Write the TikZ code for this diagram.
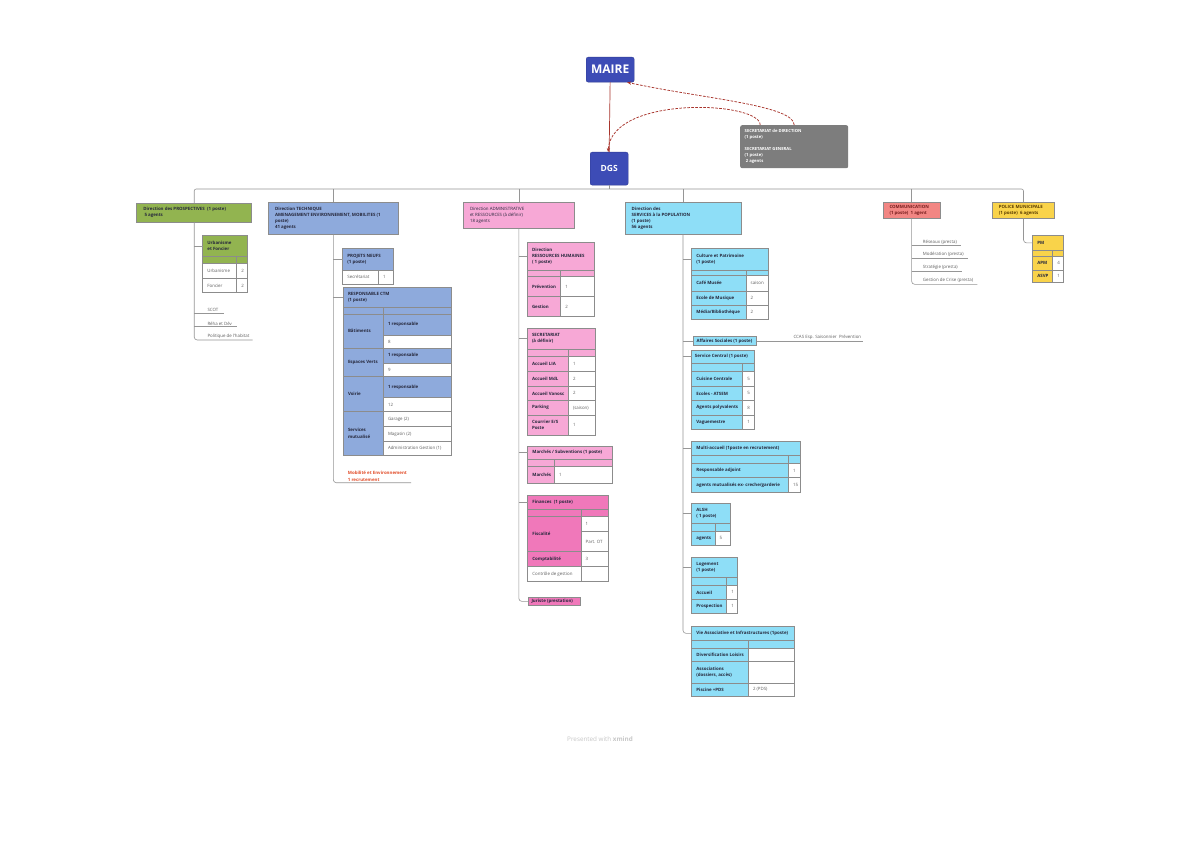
\documentclass[tikz,border=0pt]{standalone}
\usepackage{fontspec}
\setmainfont{Open Sans}
\usetikzlibrary{arrows.meta}
\definecolor{bossblue}{RGB}{61,76,182}
\definecolor{secgray}{RGB}{125,125,125}
\definecolor{redline}{RGB}{168,52,44}
\definecolor{connc}{RGB}{150,150,150}
\definecolor{cellline}{RGB}{140,140,140}
\definecolor{gr}{RGB}{146,180,80}
\definecolor{bl}{RGB}{142,170,220}
\definecolor{pk}{RGB}{247,168,214}
\definecolor{pkd}{RGB}{240,120,186}
\definecolor{cy}{RGB}{142,222,247}
\definecolor{sal}{RGB}{242,134,131}
\definecolor{yel}{RGB}{249,211,74}
\definecolor{labc}{RGB}{38,40,60}
\definecolor{valc}{RGB}{95,95,95}
\definecolor{mobc}{RGB}{226,76,40}
\definecolor{comc}{RGB}{120,30,30}
\definecolor{polc}{RGB}{90,60,0}
% cell: name, x1, y1, x2, y2, fill, text, style
\newcommand{\cel}[8]{%
  \node[cellbox, fill=#6, anchor=north west, minimum width={#4-#2}, minimum height={#5-#3}] (#1) at (#2,#3) {};
  \node[celltext, #8, anchor=west] (#1t) at (#1.west) {#7};}
% row: name, x1, xs, x2, y1, y2, fill, left, right
\newcommand{\trow}[9]{\cel{#1a}{#2}{#5}{#3}{#6}{#7}{#8}{clab}\cel{#1b}{#3}{#5}{#4}{#6}{white}{#9}{cval}}
\newcommand{\trowv}[8]{\cel{#1a}{#2}{#5}{#3}{#6}{white}{#7}{cval}\cel{#1b}{#3}{#5}{#4}{#6}{white}{#8}{cval}}
\newcommand{\thinrow}[7]{\cel{#1a}{#2}{#5}{#3}{#6}{#7}{}{clab}\cel{#1b}{#3}{#5}{#4}{#6}{#7}{}{clab}}
\begin{document}
\begin{tikzpicture}[x=1pt,y=-1pt,
  cellbox/.style={draw=cellline, line width=0.45pt, inner sep=0pt, outer sep=0pt},
  celltext/.style={inner xsep=4.5pt, inner ysep=0pt, align=left},
  clab/.style={font=\fontsize{4.4}{6.2}\selectfont\bfseries, text=labc},
  cval/.style={font=\fontsize{4.4}{6.2}\selectfont, text=valc},
  conn/.style={draw=connc, line width=0.6pt},
  item/.style={font=\fontsize{4.4}{6.2}\selectfont, text=valc, inner xsep=0pt, inner ysep=1.3pt, anchor=south west},
  redl/.style={draw=redline, line width=0.7pt},
  redd/.style={draw=redline, line width=0.75pt, dash pattern=on 2.6pt off 1.4pt, -{Stealth[length=4pt,width=3.2pt]}},
  boss/.style={fill=bossblue, draw=bossblue!80!black, line width=0.3pt, rounded corners=2pt, text=white, inner sep=0pt, anchor=north west}]
\path[fill=white] (0,0) rectangle (1200,848);
\useasboundingbox (0,0) rectangle (1200,848);

% top
\node[boss, minimum width=48pt, minimum height=25pt, font=\fontsize{12}{12}\selectfont\bfseries] (maire) at (586,57) {MAIRE};
\node[boss, minimum width=38pt, minimum height=33pt, font=\fontsize{8.5}{8.5}\selectfont\bfseries] (dgs) at (590,152) {DGS};
\node[fill=secgray, rounded corners=2pt, inner sep=0pt, minimum width=108pt, minimum height=43pt, anchor=north west] (secr) at (740,125) {};
\node[celltext, anchor=west, text=white, font=\fontsize{4.2}{6}\selectfont\bfseries] (secrt) at (secr.west) {SECRETARIAT de DIRECTION\\(1 poste)\\[6pt]SECRETARIAT GENERAL\\(1 poste)\\\ 2 agents};

\draw[redl] (maire.south) -- (dgs.north);
\draw[redd] (secr.north) .. controls +(0,-20) and +(73,16) .. ([xshift=17pt]maire.south);
\draw[redd] ([xshift=-34pt]secr.north) .. controls +(0,-24) and +(3,-57) .. ([xshift=-1pt]dgs.north);

% directions
\cel{pros}{136.7}{203}{251.7}{222}{gr}{Direction des PROSPECTIVES\ \ (1 poste)\\\ 5 agents}{clab, inner xsep=6.5pt}
\cel{tech}{268.3}{202.3}{398.3}{234.3}{bl}{Direction TECHNIQUE\\AMENAGEMENT ENVIRONNEMENT, MOBILITES (1\\poste)\\41 agents}{clab, inner xsep=6.5pt}
\cel{adm}{463.3}{202.3}{574.3}{228.3}{pk}{Direction ADMINISTRATIVE\\et RESSOURCES (à définir)\\18 agents}{cval, text=labc, inner xsep=6.5pt}
\cel{pop}{625}{202.3}{741}{234.3}{cy}{Direction des\\SERVICES à la POPULATION\\(1 poste)\\56 agents}{clab, inner xsep=6.5pt}
\cel{com}{883.3}{202.3}{940}{218.3}{sal}{COMMUNICATION\\(1 poste)\ \ 1 agent}{clab, inner xsep=6pt, text=comc}
\cel{pol}{992.7}{202.3}{1054.3}{218.3}{yel}{POLICE MUNICIPALE\\(1 poste)\ \ 6 agents}{clab, inner xsep=6pt, text=polc}

\coordinate (bus) at (610,189);
\draw[conn, rounded corners=2pt] (pros.north) |- (bus) -| (pol.north);
\draw[conn] (dgs.south) -- (dgs.south |- bus);
\foreach \n in {tech,adm,pop,com}{\draw[conn] (\n.north |- bus) -- (\n.north);}

% prospectives
\cel{urb}{202.7}{235.7}{247.3}{256.7}{gr}{Urbanisme\\et Foncier}{clab}
\thinrow{urbt}{202.7}{236.7}{247.3}{256.7}{263.3}{gr}
\trowv{urbr1}{202.7}{236.7}{247.3}{263.3}{278.3}{Urbanisme}{2}
\trowv{urbr2}{202.7}{236.7}{247.3}{278.3}{292.7}{Foncier}{2}
\node[item] (scot) at (207.3,313.3) {SCOT};
\node[item] (reha) at (207.3,326.7) {Réha et Dév};
\node[item] (polh) at (207.3,340) {Politique de l'habitat};
\draw[conn, rounded corners=3pt] (pros.south) |- ([xshift=3pt]polh.south east);
\draw[conn] (pros.south |- urb.west) -- (urb.west);
\draw[conn] (pros.south |- scot.south) -- ([xshift=5pt]scot.south east);
\draw[conn] (pros.south |- reha.south) -- ([xshift=5pt]reha.south east);

% technique
\cel{pn}{342.7}{248.3}{393.3}{270}{bl}{PROJETS NEUFS\\(1 poste)}{clab}
\trowv{pnr}{342.7}{378.3}{393.3}{270}{284.3}{Secrétariat}{1}
\cel{ctm}{343.3}{287.3}{451}{307.3}{bl}{RESPONSABLE CTM\\(1 poste)}{clab}
\thinrow{ctmt}{343.3}{383.3}{451}{307.3}{314}{bl}
\cel{bat}{343.3}{314}{383.3}{348.3}{bl}{Bâtiments}{clab}
\cel{batr}{383.3}{314}{451}{335}{bl}{1 responsable}{clab}
\cel{batn}{383.3}{335}{451}{348.3}{white}{8}{cval}
\cel{esv}{343.3}{348.3}{383.3}{376.7}{bl}{Espaces Verts}{clab}
\cel{esvr}{383.3}{348.3}{451}{363.3}{bl}{1 responsable}{clab}
\cel{esvn}{383.3}{363.3}{451}{376.7}{white}{9}{cval}
\cel{voi}{343.3}{376.7}{383.3}{411.7}{bl}{Voirie}{clab}
\cel{voir}{383.3}{376.7}{451}{397.3}{bl}{1 responsable}{clab}
\cel{voin}{383.3}{397.3}{451}{411.7}{white}{12}{cval}
\cel{smu}{343.3}{411.7}{383.3}{455}{bl}{Services\\mutualisé}{clab}
\cel{smua}{383.3}{411.7}{451}{426.7}{white}{Garage (2)}{cval}
\cel{smub}{383.3}{426.7}{451}{441.7}{white}{Magasin (2)}{cval}
\cel{smuc}{383.3}{441.7}{451}{455}{white}{Administration Gestion (1)}{cval}
\node[item, font=\fontsize{4.4}{6.2}\selectfont\bfseries, text=mobc, align=left] (mob) at (347.7,482.7) {Mobilité et Environnement\\1 recrutement};
\draw[conn, rounded corners=3pt] (tech.south) |- ([xshift=4pt]mob.south east);
\draw[conn] (tech.south |- pn.west) -- (pn.west);
\draw[conn] (tech.south |- ctm.west) -- (ctm.west);

% administrative
\cel{drh}{527.3}{242.3}{594}{270}{pk}{Direction\\RESSOURCES HUMAINES\\( 1 poste)}{clab}
\thinrow{drht}{527.3}{560.7}{594}{270}{276.7}{pk}
\trow{drha}{527.3}{560.7}{594}{276.7}{296.7}{pk}{Prévention}{1}
\trow{drhb}{527.3}{560.7}{594}{296.7}{316.7}{pk}{Gestion}{2}
\cel{sec}{527.3}{328.3}{595}{349}{pk}{SECRETARIAT\\(à définir)}{clab}
\thinrow{sect}{527.3}{568.3}{595}{349}{356.7}{pk}
\trow{seca}{527.3}{568.3}{595}{356.7}{371.7}{pk}{Accueil LIA}{1}
\trow{secb}{527.3}{568.3}{595}{371.7}{386}{pk}{Accueil MdL}{2}
\trow{secc}{527.3}{568.3}{595}{386}{400.7}{pk}{Accueil Vanosc}{2}
\trow{secd}{527.3}{568.3}{595}{400.7}{415}{pk}{Parking}{(saison)}
\trow{sece}{527.3}{568.3}{595}{415}{435}{pk}{Courrier E/S\\Poste}{1}
\cel{mar}{527.7}{446}{612.7}{459.3}{pk}{Marchés / Subventions (1 poste)}{clab}
\thinrow{mart}{527.7}{554.3}{612.7}{459.3}{466}{pk}
\trow{mara}{527.7}{554.3}{612.7}{466}{483.3}{pk}{Marchés}{1}
\cel{fin}{527.7}{495}{608.3}{509.3}{pkd}{Finances\ \ (1 poste)}{clab}
\thinrow{fint}{527.7}{581}{608.3}{509.3}{516.7}{pkd}
\cel{fis}{527.7}{516.7}{581}{551.7}{pkd}{Fiscalité}{clab}
\cel{fisa}{581}{516.7}{608.3}{531.7}{white}{1}{cval}
\cel{fisb}{581}{531.7}{608.3}{551.7}{white}{Part. OT}{cval}
\trow{cpt}{527.7}{581}{608.3}{551.7}{566.7}{pkd}{Comptabilité}{3}
\trowv{cdg}{527.7}{581}{608.3}{566.7}{581.7}{Contrôle de gestion}{}
\cel{jur}{528.3}{597.7}{580}{605}{pkd}{Juriste (prestation)}{clab, inner xsep=3pt}
\draw[conn, rounded corners=3pt] (adm.south) |- (jur.west);
\foreach \n in {drh,sec,mar,fin}{\draw[conn] (adm.south |- \n.west) -- (\n.west);}

% population
\cel{cul}{691.7}{248.3}{768.3}{270}{cy}{Culture et Patrimoine\\(1 poste)}{clab}
\thinrow{cult}{691.7}{746}{768.3}{270}{275}{cy}
\trow{cula}{691.7}{746}{768.3}{275}{291}{cy}{Café Musée}{saison}
\trow{culb}{691.7}{746}{768.3}{291}{305}{cy}{Ecole de Musique}{2}
\trow{culc}{691.7}{746}{768.3}{305}{319}{cy}{Média/Bibliothèque}{2}
\cel{aff}{693.3}{336.7}{756.7}{345}{cy}{Affaires Sociales (1 poste)}{clab, inner xsep=3pt}
\node[item] (ccas) at (793.3,340.7) {CCAS Esp. Saisonnier\ \ Prévention};
\draw[conn] (aff.east) -- ([xshift=2pt]aff.east -| ccas.south east);
\cel{sc}{691.7}{350}{754.3}{363.3}{cy}{Service Central (1 poste)}{clab, inner xsep=3pt}
\thinrow{sct}{691.7}{742.7}{754.3}{363.3}{371}{cy}
\trow{sca}{691.7}{742.7}{754.3}{371}{386}{cy}{Cuisine Centrale}{5}
\trow{scb}{691.7}{742.7}{754.3}{386}{400.7}{cy}{Ecoles - ATSEM}{5}
\trow{scc}{691.7}{742.7}{754.3}{400.7}{415}{cy}{Agents polyvalents}{8}
\trow{scd}{691.7}{742.7}{754.3}{415}{429.3}{cy}{Vaguemestre}{1}
\cel{ma}{691.7}{441}{800.7}{455.7}{cy}{Multi-accueil (1poste en recrutement)}{clab}
\thinrow{mat}{691.7}{788.3}{800.7}{455.7}{463.3}{cy}
\trow{maa}{691.7}{788.3}{800.7}{463.3}{477.7}{cy}{Responsable adjoint}{1}
\trow{mab}{691.7}{788.3}{800.7}{477.7}{492.3}{cy}{agents mutualisés ex- creche/garderie}{15}
\cel{alsh}{691.7}{503.3}{730}{523.3}{cy}{ALSH\\( 1 poste)}{clab}
\thinrow{alsht}{691.7}{715}{730}{523.3}{531}{cy}
\trow{alsha}{691.7}{715}{730}{531}{545.7}{cy}{agents}{5}
\cel{log}{691.7}{557.7}{737.3}{577.7}{cy}{Logement\\(1 poste)}{clab}
\thinrow{logt}{691.7}{726.7}{737.3}{577.7}{585.7}{cy}
\trow{loga}{691.7}{726.7}{737.3}{585.7}{599}{cy}{Accueil}{1}
\trow{logb}{691.7}{726.7}{737.3}{599}{613.3}{cy}{Prospection}{1}
\cel{via}{691.7}{626}{794}{640.7}{cy}{Vie Associative et Infrastructures (1poste)}{clab}
\thinrow{viat}{691.7}{748.3}{794}{640.7}{648.3}{cy}
\trow{viaa}{691.7}{748.3}{794}{648.3}{661.7}{cy}{Diversification Loisirs}{}
\trow{viab}{691.7}{748.3}{794}{661.7}{683.3}{cy}{Associations\\(dossiers, accès)}{}
\trow{viac}{691.7}{748.3}{794}{683.3}{696}{cy}{Piscine +PDS}{2 (PDS)}
\draw[conn, rounded corners=3pt] (pop.south) |- (via.west);
\foreach \n in {cul,aff,sc,ma,alsh,log}{\draw[conn] (pop.south |- \n.west) -- (\n.west);}

% communication
\node[item] (res) at (922.7,245.7) {Réseaux (presta)};
\node[item] (mdr) at (922.7,258.3) {Modération (presta)};
\node[item] (stg) at (922.7,271) {Stratégie (presta)};
\node[item] (gcr) at (922.7,284.3) {Gestion de Crise (presta)};
\draw[conn, rounded corners=3pt] (com.south) |- ([xshift=4pt]gcr.south east);
\foreach \n in {res,mdr,stg}{\draw[conn] (com.south |- \n.south) -- ([xshift=4pt]\n.south east);}

% police
\cel{pm}{1032.7}{235.7}{1063.3}{250}{yel}{PM}{clab}
\thinrow{pmt}{1032.7}{1052.7}{1063.3}{250}{256.7}{yel}
\trow{pma}{1032.7}{1052.7}{1063.3}{256.7}{270}{yel}{APM}{4}
\trow{pmb}{1032.7}{1052.7}{1063.3}{270}{282.3}{yel}{ASVP}{1}
\draw[conn, rounded corners=3pt] (pol.south) |- (pm.west);

\node[font=\fontsize{6.3}{7}\selectfont, text=black!22] (pw) at (600,739) {Presented with \textbf{xmind}};
\end{tikzpicture}
\end{document}
